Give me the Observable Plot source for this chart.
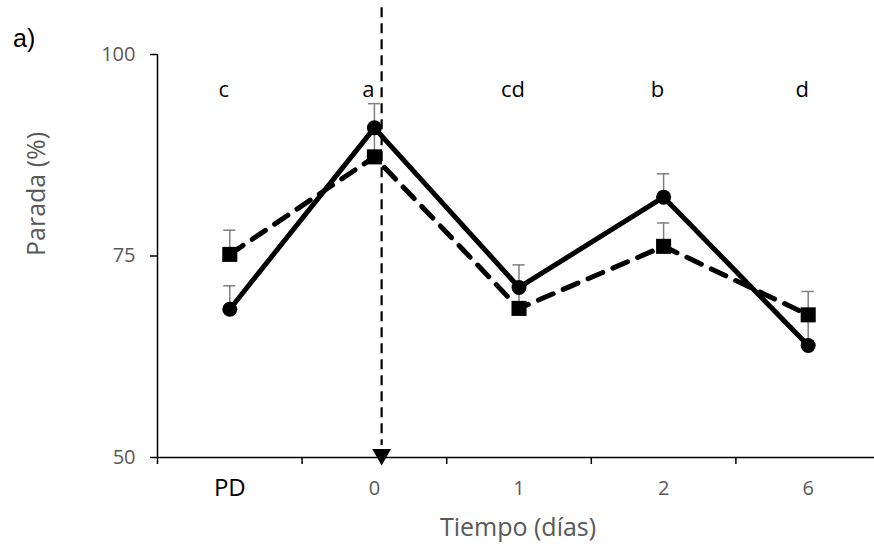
<!DOCTYPE html>
<html>
<head>
<meta charset="utf-8">
<script src="https://cdn.jsdelivr.net/npm/d3@7"></script>
<script src="https://cdn.jsdelivr.net/npm/@observablehq/plot@0.6"></script>
<style>
  body { margin: 0; background: #fff; }
  #wrap { position: relative; width: 874px; height: 550px; }
  #panel { position: absolute; left: 13px; top: 24px; font: 25px "Liberation Sans", Arial, sans-serif; color: #000; z-index: 2; }
</style>
</head>
<body>
<div id="wrap"><div id="panel">a)</div></div>
<script>
const categories = ["PD", "0", "1", "2", "6"];
const circleValues = [68.4, 90.9, 71.1, 82.3, 63.9];
const circleErrTop = [71.3, 93.9, 73.9, 85.2, 67.6];
const squareValues = [75.2, 87.3, 68.5, 76.2, 67.7];
const squareErrTop = [78.2, 90.3, 70.8, 79.1, 70.6];
const letters = ["c", "a", "cd", "b", "d"];
const yTicks = [50, 75, 100];
const letterLevel = 95.6;
const arrowCategory = "0";

const xi = c => categories.indexOf(c) + 0.5;
const circles = categories.map((c, i) => ({cat: c, x: xi(c), y: circleValues[i], top: circleErrTop[i]}));
const squares = categories.map((c, i) => ({cat: c, x: xi(c), y: squareValues[i], top: squareErrTop[i]}));
const letterData = categories.map((c, i) => ({x: xi(c), text: letters[i]}));
const catData = categories.map(c => ({x: xi(c), text: c}));
const capHalf = 0.042;
const arrowX = xi(arrowCategory) + 0.05;
const gray = "#595959";
const errColor = "#7f7f7f";

const chart = Plot.plot({
  width: 874,
  height: 550,
  marginLeft: 157,
  marginRight: 0,
  marginTop: 54,
  marginBottom: 93,
  style: {fontFamily: "'Open Sans', sans-serif", background: "#fff"},
  x: {domain: [0, categories.length], range: [157, 880]},
  y: {domain: [50, 100]},
  marks: [
    // axes
    Plot.axisX({ticks: d3.range(categories.length + 1), tickSize: 7, tickFormat: () => "", label: null, stroke: "#000", strokeWidth: 1.5}),
    Plot.axisY({ticks: yTicks, tickSize: 7, tickFormat: () => "", label: null, stroke: "#000", strokeWidth: 1.5}),
    Plot.text(yTicks, {x: 0, y: d => d, text: d => String(d), dx: -22, textAnchor: "end", fontSize: 20, fill: gray}),
    Plot.ruleX([0], {y1: 50, y2: 100, stroke: "#000", strokeWidth: 1.5}),
    Plot.ruleY([50], {x1: 0, x2: categories.length, stroke: "#000", strokeWidth: 1.5}),
    // category labels
    Plot.text(catData.filter(d => d.text === "PD"), {x: "x", y: 50, text: "text", dy: 31, fontSize: 24, fill: "#000"}),
    Plot.text(catData.filter(d => d.text !== "PD"), {x: "x", y: 50, text: "text", dy: 31, fontSize: 20, fill: gray}),
    // axis titles
    Plot.text(["Tiempo (días)"], {frameAnchor: "bottom", text: d => d, lineAnchor: "middle", dy: 70, dx: 2, fontSize: 25, fill: gray}),
    Plot.text(["Parada (%)"], {frameAnchor: "left", text: d => d, lineAnchor: "middle", rotate: -90, dx: -121, fontSize: 25, fill: gray}),
    // dashed arrow
    Plot.ruleX([arrowX], {x: d => d, y1: 105.8, y2: 51.5, stroke: "#000", strokeWidth: 2.2, strokeDasharray: "10,6"}),
    Plot.dot([arrowX], {x: d => d, y: 50, dy: -3, symbol: "triangle", r: 7, rotate: 180, fill: "#000", stroke: "none"}),
    // error bars
    Plot.ruleX(squares, {x: "x", y1: "y", y2: "top", stroke: errColor, strokeWidth: 1.5}),
    Plot.ruleY(squares, {y: "top", x1: d => d.x - capHalf, x2: d => d.x + capHalf, stroke: errColor, strokeWidth: 1.5}),
    Plot.ruleX(circles, {x: "x", y1: "y", y2: "top", stroke: errColor, strokeWidth: 1.5}),
    Plot.ruleY(circles, {y: "top", x1: d => d.x - capHalf, x2: d => d.x + capHalf, stroke: errColor, strokeWidth: 1.5}),
    // lines
    Plot.line(squares, {x: "x", y: "y", stroke: "#000", strokeWidth: 5, strokeDasharray: "16,11", strokeLinecap: "round", strokeLinejoin: "round"}),
    Plot.dot(squares, {x: "x", y: "y", symbol: "square", r: 8.5, fill: "#000", stroke: "none"}),
    Plot.line(circles, {x: "x", y: "y", stroke: "#000", strokeWidth: 5, strokeLinejoin: "round"}),
    Plot.dot(circles, {x: "x", y: "y", r: 7.5, fill: "#000", stroke: "none"}),
    // significance letters
    Plot.text(letterData, {x: "x", y: letterLevel, text: "text", dx: -6, fontSize: 22, fill: "#000"})
  ]
});
document.getElementById("wrap").prepend(chart);
chart.style.position = "absolute";
chart.style.left = "0";
chart.style.top = "0";
</script>
</body>
</html>
